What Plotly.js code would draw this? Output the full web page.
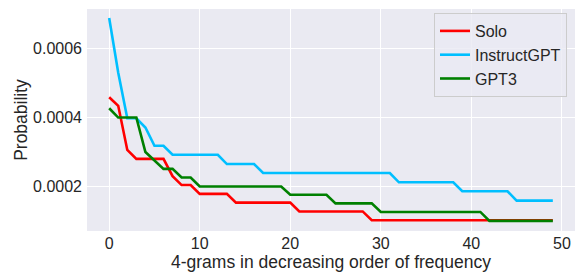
<!DOCTYPE html>
<html>
<head>
<meta charset="utf-8">
<script src="https://cdn.plot.ly/plotly-3.0.1.min.js"></script>
<style>html,body{margin:0;padding:0;background:#fff;}#chart{width:580px;height:273px;}</style>
</head>
<body>
<div id="chart"></div>
<script>
const seriesNames = ["Solo", "InstructGPT", "GPT3"];
const seriesColors = ["#ff0000", "#00bfff", "#008000"];

const solo = [0.000459, 0.000434, 0.000306, 0.00028, 0.00028, 0.00028, 0.00028, 0.00023, 0.000204, 0.000204,
  0.0001785, 0.0001785, 0.0001785, 0.0001785, 0.000153, 0.000153, 0.000153, 0.000153, 0.000153, 0.000153,
  0.000153, 0.0001275, 0.0001275, 0.0001275, 0.0001275, 0.0001275, 0.0001275, 0.0001275, 0.0001275, 0.000102,
  0.000102, 0.000102, 0.000102, 0.000102, 0.000102, 0.000102, 0.000102, 0.000102, 0.000102, 0.000102,
  0.000102, 0.000102, 0.000102, 0.000102, 0.000102, 0.000102, 0.000102, 0.000102, 0.000102, 0.000102];

const instructGPT = [0.000689, 0.00053, 0.000398, 0.000398, 0.000371, 0.000318, 0.000318, 0.000292, 0.000292, 0.000292,
  0.000292, 0.000292, 0.000292, 0.000265, 0.000265, 0.000265, 0.000265, 0.000239, 0.000239, 0.000239,
  0.000239, 0.000239, 0.000239, 0.000239, 0.000239, 0.000239, 0.000239, 0.000239, 0.000239, 0.000239,
  0.000239, 0.000239, 0.000212, 0.000212, 0.000212, 0.000212, 0.000212, 0.000212, 0.000212, 0.000186,
  0.000186, 0.000186, 0.000186, 0.000186, 0.000186, 0.000159, 0.000159, 0.000159, 0.000159, 0.000159];

const gpt3 = [0.000427, 0.0004, 0.0004, 0.0004, 0.0003, 0.000276, 0.000251, 0.000251, 0.000226, 0.000226,
  0.0002, 0.0002, 0.0002, 0.0002, 0.0002, 0.0002, 0.0002, 0.0002, 0.0002, 0.0002,
  0.000176, 0.000176, 0.000176, 0.000176, 0.000176, 0.000151, 0.000151, 0.000151, 0.000151, 0.000151,
  0.000126, 0.000126, 0.000126, 0.000126, 0.000126, 0.000126, 0.000126, 0.000126, 0.000126, 0.000126,
  0.000126, 0.000126, 0.0001, 0.0001, 0.0001, 0.0001, 0.0001, 0.0001, 0.0001, 0.0001];

const xIdx = solo.map((_, i) => i);
const allSeries = [solo, instructGPT, gpt3];

const traces = allSeries.map((ys, k) => ({
  x: xIdx, y: ys, type: "scatter", mode: "lines", name: seriesNames[k],
  line: {color: seriesColors[k], width: 2.6}
}));

const fam = "Liberation Sans, Arial, sans-serif";
const txt = "#262626";

const layout = {
  width: 580, height: 273,
  margin: {l: 87, r: 5, t: 9, b: 42},
  paper_bgcolor: "#ffffff",
  plot_bgcolor: "#eaeaf2",
  font: {family: fam, size: 16, color: txt},
  showlegend: true,
  legend: {
    x: 0.9836, xanchor: "right", y: 0.982, yanchor: "top",
    bgcolor: "rgba(234,234,242,0.8)", bordercolor: "#cccccc", borderwidth: 1,
    font: {family: fam, size: 16, color: txt}
  },
  xaxis: {
    range: [-2.45, 51.45], dtick: 10, tick0: 0,
    showgrid: true, gridcolor: "#ffffff", gridwidth: 1, zeroline: false,
    showline: false, ticks: "", ticklabelstandoff: 1,
    tickfont: {family: fam, size: 16, color: txt},
    title: {text: "4-grams in decreasing order of frequency", font: {family: fam, size: 17.5, color: txt}, standoff: 0}
  },
  yaxis: {
    range: [0.0000707, 0.000715], dtick: 0.0002, tick0: 0, tickformat: ".4f",
    showgrid: true, gridcolor: "#ffffff", gridwidth: 1, zeroline: false,
    showline: false, ticks: "", ticklabelstandoff: 4,
    tickfont: {family: fam, size: 16, color: txt},
    title: {text: "Probability", font: {family: fam, size: 17.5, color: txt}, standoff: 0}
  }
};

Plotly.newPlot("chart", traces, layout, {displayModeBar: false, staticPlot: true});
</script>
</body>
</html>
